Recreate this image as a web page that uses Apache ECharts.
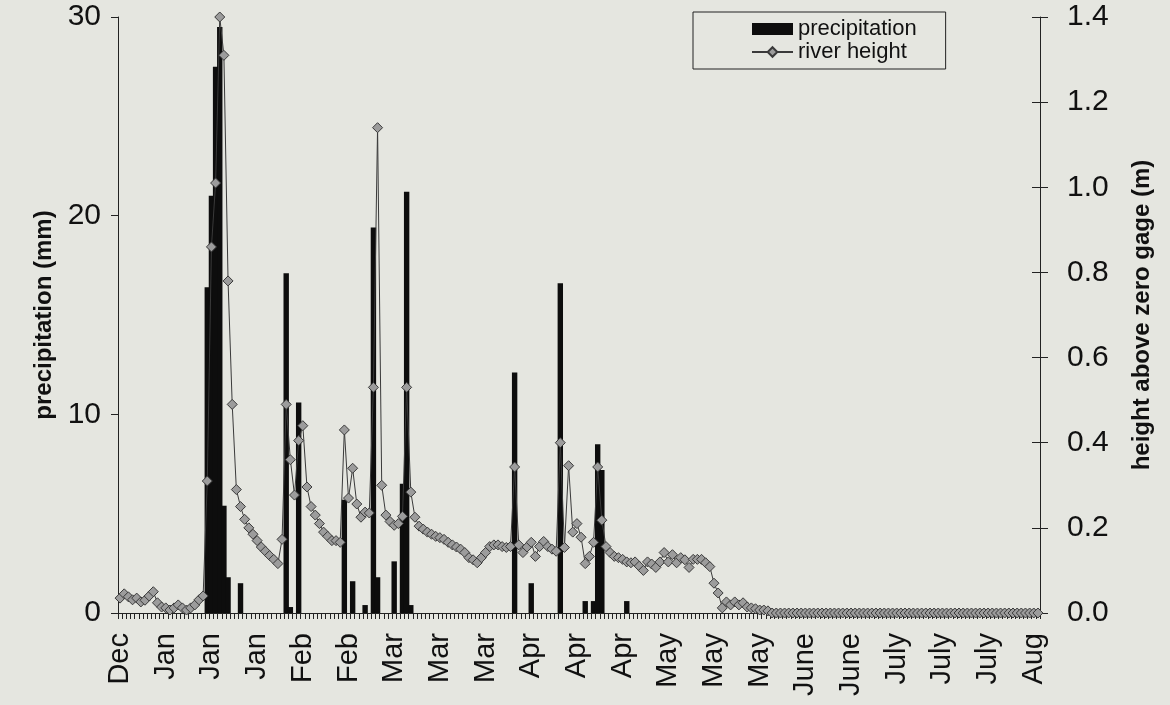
<!DOCTYPE html>
<html>
<head>
<meta charset="utf-8">
<script src="https://cdn.jsdelivr.net/npm/echarts@6/dist/echarts.min.js"></script>
<style>
  html, body { margin: 0; padding: 0; background: #e5e6e0; }
  #chart { width: 1170px; height: 705px; }
</style>
</head>
<body>
<div id="chart"></div>
<script>
// Tick labels shown every 11 days along the daily category axis
const tickLabels = ['Dec','Jan','Jan','Jan','Feb','Feb','Mar','Mar','Mar','Apr','Apr','Apr','May','May','May','June','June','July','July','July','Aug'];
const labelEvery = 11;

// Daily precipitation (mm)
const precipitation = [
  0, 0, 0, 0, 0, 0, 0, 0, 0, 0,
  0, 0, 0, 0, 0, 0, 0, 0, 0, 0,
  0, 16.4, 21.0, 27.5, 29.5, 5.4, 1.8, 0, 0, 1.5,
  0, 0, 0, 0, 0, 0, 0, 0, 0, 0,
  17.1, 0.3, 0, 10.6, 0, 0, 0, 0, 0, 0,
  0, 0, 0, 0, 5.7, 0, 1.6, 0, 0, 0.4,
  0, 19.4, 1.8, 0, 0, 0, 2.6, 0, 6.5, 21.2,
  0.4, 0, 0, 0, 0, 0, 0, 0, 0, 0,
  0, 0, 0, 0, 0, 0, 0, 0, 0, 0,
  0, 0, 0, 0, 0, 12.1, 0, 0, 0, 1.5,
  0, 0, 0, 0, 0, 0, 16.6, 0, 0, 0,
  0, 0, 0.6, 0, 0.6, 8.5, 7.2, 0, 0, 0,
  0, 0, 0.6, 0, 0, 0, 0, 0, 0, 0,
  0, 0, 0, 0, 0, 0, 0, 0, 0, 0,
  0, 0, 0, 0, 0, 0, 0, 0, 0, 0,
  0, 0, 0, 0, 0, 0, 0, 0, 0, 0,
  0, 0, 0, 0, 0, 0, 0, 0, 0, 0,
  0, 0, 0, 0, 0, 0, 0, 0, 0, 0,
  0, 0, 0, 0, 0, 0, 0, 0, 0, 0,
  0, 0, 0, 0, 0, 0, 0, 0, 0, 0,
  0, 0, 0, 0, 0, 0, 0, 0, 0, 0,
  0, 0, 0, 0, 0, 0, 0, 0, 0, 0,
  0, 0
];

// Daily river height above zero gage (m)
const riverHeight = [
  0.035, 0.045, 0.038, 0.031, 0.035, 0.026, 0.030, 0.040, 0.050, 0.024,
  0.014, 0.012, 0.007, 0.012, 0.019, 0.012, 0.007, 0.012, 0.019, 0.031,
  0.040, 0.31, 0.86, 1.01, 1.40, 1.31, 0.78, 0.49, 0.29, 0.25,
  0.22, 0.20, 0.185, 0.17, 0.155, 0.145, 0.135, 0.126, 0.116, 0.173,
  0.49, 0.36, 0.277, 0.405, 0.44, 0.296, 0.25, 0.23, 0.21, 0.19,
  0.18, 0.17, 0.17, 0.166, 0.43, 0.27, 0.34, 0.256, 0.225, 0.237,
  0.235, 0.53, 1.14, 0.30, 0.23, 0.215, 0.206, 0.21, 0.227, 0.53,
  0.284, 0.225, 0.204, 0.197, 0.19, 0.185, 0.18, 0.177, 0.173, 0.166,
  0.16, 0.155, 0.15, 0.142, 0.13, 0.125, 0.118, 0.13, 0.142, 0.156,
  0.16, 0.16, 0.156, 0.154, 0.156, 0.343, 0.16, 0.142, 0.155, 0.166,
  0.133, 0.156, 0.168, 0.156, 0.15, 0.145, 0.40, 0.154, 0.346, 0.19,
  0.21, 0.178, 0.116, 0.133, 0.166, 0.343, 0.218, 0.156, 0.142, 0.133,
  0.13, 0.126, 0.12, 0.118, 0.12, 0.11, 0.10, 0.12, 0.115, 0.107,
  0.12, 0.142, 0.12, 0.137, 0.118, 0.13, 0.125, 0.107, 0.126, 0.126,
  0.126, 0.118, 0.109, 0.07, 0.047, 0.012, 0.026, 0.019, 0.026, 0.019,
  0.024, 0.014, 0.012, 0.010, 0.007, 0.007, 0.005, 0, 0, 0,
  0, 0, 0, 0, 0, 0, 0, 0, 0, 0,
  0, 0, 0, 0, 0, 0, 0, 0, 0, 0,
  0, 0, 0, 0, 0, 0, 0, 0, 0, 0,
  0, 0, 0, 0, 0, 0, 0, 0, 0, 0,
  0, 0, 0, 0, 0, 0, 0, 0, 0, 0,
  0, 0, 0, 0, 0, 0, 0, 0, 0, 0,
  0, 0
];

const days = riverHeight.map((_, i) => String(i));

const FONT = 'Liberation Sans, Arial, sans-serif';
const BG = '#e5e6e0';
const chart = echarts.init(document.getElementById('chart'), null, { renderer: 'canvas' });

chart.setOption({
  backgroundColor: BG,
  animation: false,
  textStyle: { fontFamily: FONT },
  grid: { left: 118, right: 130, top: 17, bottom: 92, containLabel: false },
  legend: {
    orient: 'vertical',
    left: 693,
    top: 12,
    padding: [6, 29, 6, 58],
    itemGap: 1,
    itemWidth: 41,
    itemHeight: 12,
    borderColor: '#222',
    borderWidth: 1,
    backgroundColor: BG,
    textStyle: { fontFamily: FONT, fontSize: 22, color: '#111' },
    data: [
      { name: 'precipitation', icon: 'rect' },
      { name: 'river height' }
    ]
  },
  xAxis: {
    type: 'category',
    data: days,
    boundaryGap: true,
    axisLine: { lineStyle: { color: '#222', width: 1 } },
    axisTick: { show: true, interval: 0, length: 6, lineStyle: { color: '#222' } },
    axisLabel: {
      interval: (index) => index % labelEvery === 0,
      formatter: (value) => tickLabels[Math.round(Number(value) / labelEvery)],
      rotate: 90,
      margin: 20,
      fontSize: 29,
      color: '#111',
      fontFamily: FONT
    },
    splitLine: { show: false }
  },
  yAxis: [
    {
      type: 'value',
      position: 'left',
      min: 0, max: 30, interval: 10,
      name: 'precipitation (mm)',
      nameLocation: 'middle',
      nameGap: 62,
      nameRotate: 90,
      nameTextStyle: { fontFamily: FONT, fontSize: 24, fontWeight: 'bold', color: '#111' },
      axisLine: { show: true, lineStyle: { color: '#222' } },
      axisTick: { show: true, length: 7, lineStyle: { color: '#222' } },
      axisLabel: { fontSize: 30, color: '#111', margin: 17, fontFamily: FONT },
      splitLine: { show: false }
    },
    {
      type: 'value',
      position: 'right',
      min: 0, max: 1.4, interval: 0.2,
      name: 'height above zero gage (m)',
      nameLocation: 'middle',
      nameGap: 90,
      nameRotate: 90,
      nameTextStyle: { fontFamily: FONT, fontSize: 24, fontWeight: 'bold', color: '#111' },
      axisLine: { show: true, lineStyle: { color: '#222' } },
      axisTick: { show: true, length: 8, lineStyle: { color: '#222' } },
      axisLabel: { fontSize: 30, color: '#111', margin: 27, fontFamily: FONT,
                   formatter: (v) => v.toFixed(1) },
      splitLine: { show: false }
    },
    {
      type: 'value',
      position: 'right',
      min: 0, max: 1.4, interval: 0.2,
      axisLine: { show: false },
      axisTick: { show: true, inside: true, length: 8, lineStyle: { color: '#222' } },
      axisLabel: { show: false },
      splitLine: { show: false }
    }
  ],
  series: [
    {
      name: 'precipitation',
      type: 'bar',
      yAxisIndex: 0,
      data: precipitation,
      barWidth: 5.4,
      itemStyle: { color: '#0d0d0d' },
      z: 2
    },
    {
      name: 'river height',
      type: 'line',
      yAxisIndex: 1,
      data: riverHeight,
      showAllSymbol: true,
      symbol: 'diamond',
      symbolSize: 10,
      lineStyle: { color: '#3a3a3a', width: 1 },
      itemStyle: { color: '#9c9c9c', borderColor: '#3a3a3a', borderWidth: 1 },
      z: 3
    }
  ]
});
</script>
</body>
</html>
